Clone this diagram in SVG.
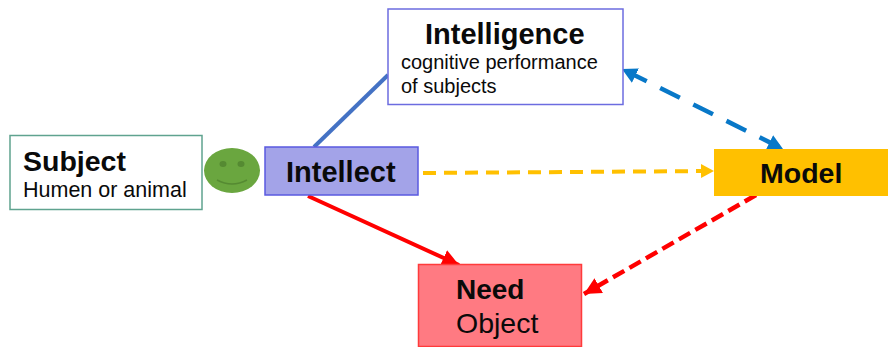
<svg xmlns="http://www.w3.org/2000/svg" width="888" height="347" viewBox="0 0 888 347">
<style>
text{font-family:"Liberation Sans",Arial,sans-serif;fill:#0a0a0a}
.b{font-weight:bold}
.c{fill:none}
</style>
<defs>
<marker id="ab" markerUnits="userSpaceOnUse" markerWidth="18" markerHeight="18" refX="15" refY="8" orient="auto-start-reverse"><path d="M0 0L15 8L0 16Z" fill="#0878c8"/></marker>
<marker id="ay" markerUnits="userSpaceOnUse" markerWidth="16" markerHeight="16" refX="13" refY="7" orient="auto"><path d="M0 0L13 7L0 14Z" fill="#ffc000"/></marker>
<marker id="ar" markerUnits="userSpaceOnUse" markerWidth="20" markerHeight="20" refX="17" refY="8.500" orient="auto"><path d="M0 0L17 8.500L0 17Z" fill="#ff0000"/></marker>
</defs>
<rect width="888" height="347" fill="#fff"/>
<g id="connectors">
<line class="c" x1="314" y1="147" x2="388" y2="75" stroke="#4472c4" stroke-width="4"/>
<line class="c" x1="622" y1="69" x2="783" y2="149" stroke="#0878c8" stroke-width="4.500" stroke-dasharray="22 15" stroke-dashoffset="31.400" marker-start="url(#ab)" marker-end="url(#ab)"/>
<line class="c" x1="423" y1="173" x2="714" y2="171" stroke="#ffc000" stroke-width="4" stroke-dasharray="13 8" marker-end="url(#ay)"/>
<line class="c" x1="308" y1="196" x2="459" y2="265" stroke="#ff0000" stroke-width="4" marker-end="url(#ar)"/>
<line class="c" x1="756" y1="195" x2="584" y2="294" stroke="#ff0000" stroke-width="4.500" stroke-dasharray="13 6" marker-end="url(#ar)"/>
</g>
<g id="subject">
<rect x="10" y="135.500" width="192" height="74" fill="#fff" stroke="#5fa38f" stroke-width="1.500"/>
<text class="b" x="23" y="170.500" font-size="28.500">Subject</text>
<text x="23" y="197" font-size="21.500">Humen or animal</text>
</g>
<g id="smiley">
<ellipse cx="232" cy="170.500" rx="28" ry="22.500" fill="#6aa63f"/>
<ellipse cx="223" cy="164" rx="3.500" ry="3" fill="#558a32"/>
<ellipse cx="241" cy="164" rx="3.500" ry="3" fill="#558a32"/>
<path d="M217 180Q232 188 247 180" class="c" stroke="#558a32" stroke-width="1.500"/>
</g>
<g id="intellect">
<rect x="265" y="147" width="153" height="48" fill="#a3a3e8" stroke="#5a5ae0" stroke-width="1.500"/>
<text class="b" x="286" y="181.500" font-size="29">Intellect</text>
</g>
<g id="intelligence">
<rect x="388" y="9" width="235" height="95.500" fill="#fff" stroke="#6c6ce0" stroke-width="1.500"/>
<text class="b" x="425" y="43.500" font-size="29">Intelligence</text>
<text x="401" y="69" font-size="20">cognitive performance</text>
<text x="401" y="93" font-size="20">of subjects</text>
</g>
<g id="model">
<rect x="714" y="149" width="174" height="47" fill="#ffc000"/>
<text class="b" x="760" y="182.500" font-size="28.500">Model</text>
</g>
<g id="need">
<rect x="418.500" y="264.500" width="163" height="82" fill="#ff7a82" stroke="#ff3b3b" stroke-width="1.500"/>
<text class="b" x="456" y="298.500" font-size="28">Need</text>
<text x="456" y="333" font-size="28.500">Object</text>
</g>
</svg>
